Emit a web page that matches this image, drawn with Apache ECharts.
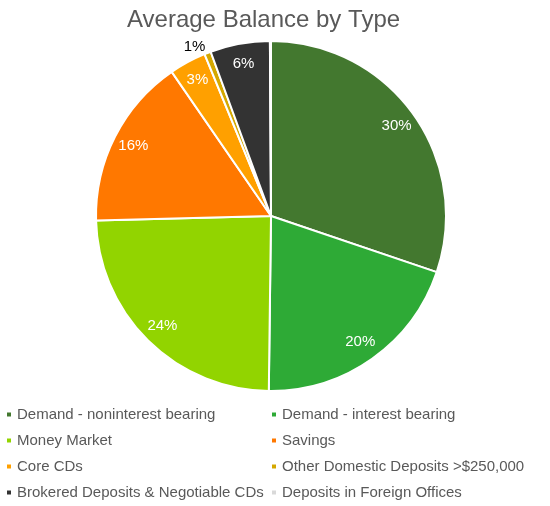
<!DOCTYPE html>
<html>
<head>
<meta charset="utf-8">
<script src="https://cdn.jsdelivr.net/npm/echarts@6/dist/echarts.min.js"></script>
<style>
  html, body { margin: 0; padding: 0; background: #fff; }
  #main { width: 550px; height: 506px; }
</style>
</head>
<body>
<div id="main"></div>
<script>
// slice data (share of average balance, %)
var categories = [
  'Demand - noninterest bearing',
  'Demand - interest bearing',
  'Money Market',
  'Savings',
  'Core CDs',
  'Other Domestic Deposits >$250,000',
  'Brokered Deposits & Negotiable CDs',
  'Deposits in Foreign Offices'
]
var values = [30.2, 20.0, 24.4, 15.8, 3.4, 0.6, 5.5, 0.1]
var labels = ['30%', '20%', '24%', '16%', '3%', '1%', '6%', '']
var colors = ['#43782f', '#2eaa36', '#92d400', '#ff7800', '#ffa000', '#d4a800', '#333333', '#d9d9d9']

var leftCol = [categories[0], categories[2], categories[4], categories[6]]
var rightCol = [categories[1], categories[3], categories[5], categories[7]]

var chart = echarts.init(document.getElementById('main'))

var pieData = categories.map(function (name, i) {
  return { name: name, value: values[i] }
})

var labelData = categories.map(function (name, i) {
  var item = { name: name, value: values[i], label: { formatter: labels[i] } }
  if (i === 5) {
    // tiny slice -> label sits outside in dark text
    item.label = {
      formatter: labels[i],
      position: 'outside',
      color: '#000',
      distanceToLabelLine: 0
    }
    item.labelLine = { show: false, length: 6, length2: 0 }
  }
  return item
})

var legendCommon = {
  orient: 'vertical',
  top: 402,
  height: 104,
  itemWidth: 6,
  itemHeight: 6,
  itemGap: 11,
  icon: 'rect',
  textStyle: { color: '#595959', fontSize: 15, fontFamily: 'Liberation Sans, Arial, sans-serif' }
}

var option = {
  color: colors,
  animation: false,
  title: {
    text: 'Average Balance by Type',
    left: 122,
    top: 3,
    textStyle: { color: '#595959', fontSize: 24, fontWeight: 'normal', fontFamily: 'Liberation Sans, Arial, sans-serif' }
  },
  legend: [
    Object.assign({ left: 0, data: leftCol }, legendCommon),
    Object.assign({ left: 265, data: rightCol }, legendCommon)
  ],
  series: [
    {
      name: 'Average Balance',
      type: 'pie',
      center: [271, 216],
      radius: [0, 175],
      startAngle: 90,
      clockwise: true,
      label: { show: false },
      labelLine: { show: false },
      itemStyle: { borderColor: '#fff', borderWidth: 2 },
      emphasis: { disabled: true },
      data: pieData
    },
    {
      // label ring, drawn transparent so labels land near the rim
      name: 'labels',
      type: 'pie',
      center: [271, 216],
      radius: [128, 175],
      startAngle: 90,
      clockwise: true,
      silent: true,
      legendHoverLink: false,
      itemStyle: { color: 'rgba(0,0,0,0)', borderWidth: 0 },
      label: {
        show: true,
        position: 'inside',
        color: '#fff',
        fontSize: 15,
        fontFamily: 'Liberation Sans, Arial, sans-serif'
      },
      labelLine: { show: false },
      emphasis: { disabled: true },
      data: labelData
    }
  ]
}

chart.setOption(option)
</script>
</body>
</html>
